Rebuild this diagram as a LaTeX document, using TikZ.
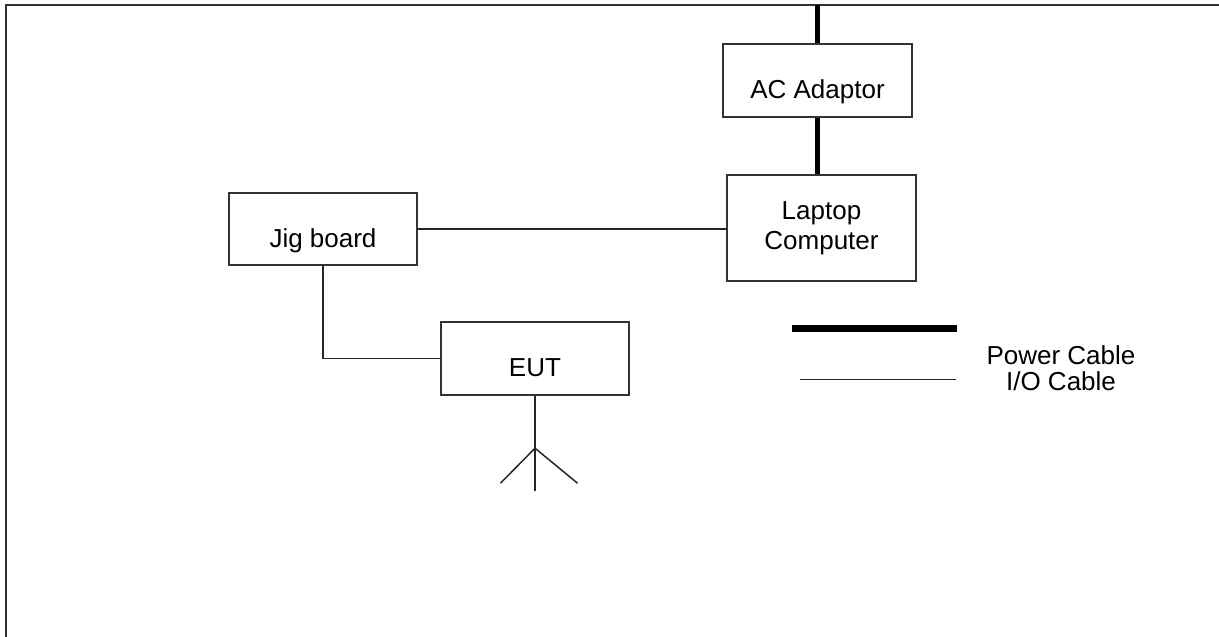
\documentclass[tikz,border=0pt]{standalone}
\usepackage{fontspec}
\setmainfont{Liberation Sans}
\usetikzlibrary{positioning, calc}
\tikzset{
  box/.style={draw=black!80, line width=1.1pt, minimum width=3.77cm, font=\fontsize{14.8}{17}\selectfont},
  unit/.style={box, minimum height=1.45cm, text height=0.73cm, text depth=0cm},
  iocable/.style={line width=0.85pt, black!85},
  powercable/.style={line width=3.4pt},
}

\begin{document}
\begin{tikzpicture}
\useasboundingbox (0,0) rectangle (24.38,12.74);
% frame
\draw[line width=1.1pt, black!80] (0.12,0) -- (0.12,12.64) -- (24.38,12.64);
\coordinate (mains) at (16.37,12.64);
% units
\node[unit] (adaptor) at (16.35,11.13) {AC Adaptor};
\node[box, minimum height=2.12cm, align=center] (laptop) at (16.43,8.18) {Laptop\\Computer};
\node[unit] (jig) at (6.46,8.16) {Jig board};
\node[unit] (eut) at (10.70,5.57) {EUT};
% power
\draw[powercable] (adaptor.north) -- (adaptor.north |- mains);
\draw[powercable] (adaptor.south) -- (adaptor.south |- laptop.north);
% i/o
\draw[iocable] (jig.east) -- (jig.east -| laptop.west);
\draw[iocable] (jig.south) |- (eut.west);
% antenna
\draw[iocable] (eut.south) -- ++(0,-1.91) coordinate (antend);
\coordinate (feed) at ($(eut.south)+(0,-1.05)$);
\draw[iocable] ($(feed)+(-0.69,-0.70)$) -- (feed) -- ($(feed)+(0.85,-0.70)$);
% legend
\coordinate (pw1) at (15.84,6.17);
\coordinate (pw2) at (19.14,6.17);
\coordinate (io1) at (16.00,5.15);
\coordinate (io2) at (19.12,5.15);
\draw[line width=3.8pt] (pw1) -- (pw2);
\draw[iocable] (io1) -- (io2);
\node[anchor=base, font=\fontsize{14.8}{17}\selectfont] (powerlbl) at (21.22,5.44) {Power Cable};
\node[anchor=base, font=\fontsize{14.8}{17}\selectfont] (iolbl) at (21.22,4.92) {I/O Cable};
\end{tikzpicture}
\end{document}
